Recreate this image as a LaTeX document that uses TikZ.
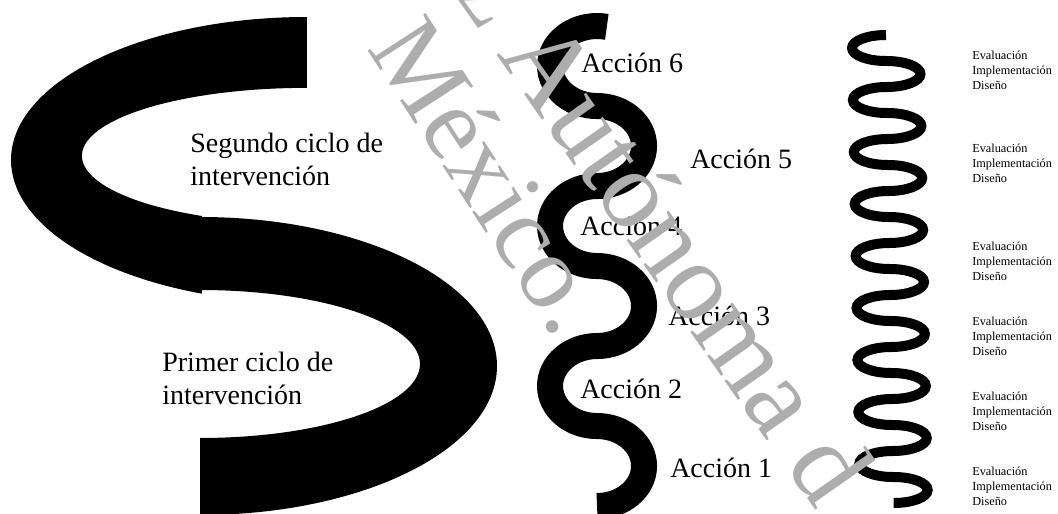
\documentclass[tikz,border=0pt]{standalone}
\usepackage{fontspec}
\setmainfont{Liberation Serif}

\begin{document}
\begin{tikzpicture}[x=0.75pt,y=-0.75pt,
    ciclo/.style={anchor=base west,inner sep=0pt,align=left,font=\fontsize{21}{24.5}\selectfont},
    accion/.style={anchor=base west,inner sep=0pt,font=\fontsize{21}{24.5}\selectfont},
    fases/.style={anchor=west,inner sep=0pt,align=left,font=\fontsize{9.2}{11.2}\selectfont},
    banda/.style={line width=19.5pt,line cap=butt},
    resorte/.style={line width=7.5pt,line cap=butt},
    marca/.style={anchor=base west,inner sep=0pt,text=black!32}]
  \useasboundingbox (0,0) rectangle (1058,514);
  \clip (0,0) rectangle (1058,514);

  % big S: two cycles
  \fill (307,17) arc[start angle=-90,end angle=-249.2,x radius=296,y radius=143]
    -- (202,216) arc[start angle=-242.2,end angle=-90,x radius=225,y radius=68] -- cycle;
  \fill (200,217) arc[start angle=-90,end angle=90,x radius=297,y radius=149]
    -- (200,438) arc[start angle=90,end angle=-90,x radius=220,y radius=74] -- cycle;
  \node[ciclo] (segundo) at (190,185) {Segundo ciclo de\\intervención};
  \node[ciclo] (primero) at (162,404) {Primer ciclo de\\intervención};

  % six actions
  \draw[banda] (606.8,26.9) arc[start angle=-78,end angle=-270,x radius=47,y radius=40]
    \foreach \i in {1,2} {arc[start angle=-90,end angle=90,x radius=47,y radius=40]
      arc[start angle=-90,end angle=-270,x radius=47,y radius=40]}
    arc[start angle=-90,end angle=90,x radius=47,y radius=40];
  \node[accion] (a6) at (581,72) {Acción 6};
  \node[accion] (a5) at (690,168) {Acción 5};
  \node[accion] (a4) at (580,235) {Acción 4};
  \node[accion] (a3) at (668,325) {Acción 3};
  \node[accion] (a2) at (580,398) {Acción 2};
  \node[accion] (a1) at (670,477) {Acción 1};

  % spiral of small cycles
  \draw[resorte] (886,35)
    \foreach \i in {1,...,9} {arc[start angle=-90,end angle=-270,x radius=34,y radius=13] -- ++(0.45,0)
      arc[start angle=-90,end angle=90,x radius=34,y radius=13] -- ++(0.45,0)};
  \foreach \y [count=\n] in {70,163,261,336,411,486}
    \node[fases] (f\n) at (972,\y) {Evaluación\\Implementación\\Diseño};

  % watermark
  \node[marca,rotate=-55,font=\fontsize{84}{84}\selectfont] (linea1) at (452,-9) {z Autónoma d};
  \node[marca,rotate=-57,font=\fontsize{79}{79}\selectfont] (linea2) at (366,48) {México.};
\end{tikzpicture}
\end{document}
